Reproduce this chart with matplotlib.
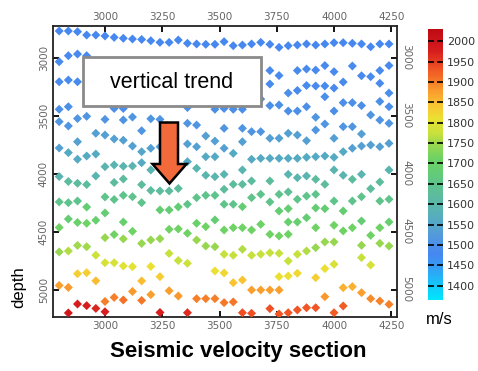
import numpy as np
import matplotlib
matplotlib.use("Agg")
import matplotlib.pyplot as plt
from matplotlib.colors import LinearSegmentedColormap, Normalize
from matplotlib.patches import Rectangle, Polygon

# ---------------- data ----------------
trace_x = [2800, 2840, 2880, 2920, 2960, 3000, 3040, 3080, 3120, 3160,
           3200, 3240, 3280, 3320, 3360, 3400, 3440, 3480, 3520, 3560,
           3600, 3640, 3680, 3720, 3760, 3800, 3840, 3880, 3920, 3960,
           4000, 4040, 4080, 4120, 4160, 4200, 4240]

depth_picks = [
    [2771, 3036, 3209, 3446, 3553, 3780, 4026, 4245, 4465, 4676, 4965],
    [2771, 2984, 3194, 3424, 3590, 3820, 4069, 4251, 4392, 4668, 4982, 5202],
    [2777, 2970, 3209, 3526, 3726, 3877, 4084, 4237, 4422, 4620, 4864, 5125],
    [2806, 2984, 3507, 3849, 4095, 4289, 4429, 4631, 4855, 5139],
    [2806, 3653, 3832, 4021, 4403, 4704, 4925, 5163],
    [2814, 3533, 3668, 3941, 4202, 4340, 4553, 4769, 5103, 5192],
    [2826, 3439, 3702, 3926, 4077, 4224, 4526, 4769, 5068],
    [2834, 3439, 3538, 3713, 3937, 4047, 4188, 4418, 4563, 4797, 5090],
    [2840, 3513, 3763, 3935, 4200, 4498, 4803, 5017],
    [2844, 3631, 3812, 3907, 4096, 4251, 4603, 4926, 5094],
    [2855, 3528, 3782, 3969, 4146, 4573, 4801, 5044],
    [2869, 3533, 3769, 4150, 4314, 4562, 4889, 5198],
    [2869, 4150, 4314, 4481, 4689, 5011],
    [2849, 4129, 4288, 4478, 4750, 5056],
    [2877, 3431, 3567, 3745, 3898, 4265, 4515, 4774, 5200],
    [2883, 3582, 3769, 3955, 4208, 4429, 4573, 5079],
    [2886, 3676, 3855, 4015, 4188, 4458, 4625, 5079],
    [2886, 3446, 3720, 3855, 4027, 4188, 4400, 4631, 4840, 5079],
    [2863, 3439, 3610, 3782, 4007, 4136, 4265, 4487, 4696, 4857, 5113],
    [2898, 3446, 3826, 4093, 4265, 4467, 4705, 4941, 5107],
    [2892, 3446, 3610, 3726, 3969, 4093, 4286, 4467, 4653, 4918, 5200],
    [2883, 3639, 3877, 4064, 4208, 4487, 4705, 5004, 5205],
    [2869, 3358, 3639, 3869, 4179, 4438, 4696, 5004],
    [2886, 3112, 3228, 3414, 3696, 3869, 4064, 4245, 4524, 4683, 5004, 5165],
    [2912, 3155, 3409, 3696, 3869, 4179, 4323, 4538, 4688, 4889, 5004, 5211],
    [2898, 3306, 3461, 3653, 3869, 4007, 4159, 4303, 4418, 4524, 4754, 4883, 5200],
    [2892, 3112, 3284, 3461, 3668, 3869, 4036, 4222, 4418, 4696, 4860, 5176],
    [2883, 3099, 3241, 3424, 3717, 3860, 4021, 4194, 4381, 4668, 5157],
    [2892, 3108, 3245, 3515, 3625, 3855, 4050, 4179, 4297, 4467, 4639, 4898, 5157],
    [2883, 3069, 3245, 3338, 3573, 3849, 4093, 4303, 4590, 4820, 5062],
    [2872, 3122, 3263, 3461, 3696, 3860, 3969, 4237, 4446, 4590, 4782, 5200],
    [2872, 3211, 3389, 3596, 3812, 4015, 4323, 4495, 4984, 5142],
    [2877, 3073, 3389, 3596, 3782, 4050, 4237, 4467, 4975],
    [2883, 3157, 3414, 3659, 3763, 4007, 4200, 4409, 4619, 4725, 5027],
    [2907, 3165, 3495, 3754, 4131, 4533, 4789, 5079],
    [2883, 3112, 3222, 3379, 3539, 3769, 4073, 4237, 4467, 4602, 5099],
    [2883, 3069, 3306, 3424, 3567, 3740, 3969, 4222, 4418, 4625, 5128],
]

velocity_picks = [
    [1478, 1487, 1487, 1500, 1515, 1535, 1590, 1650, 1712, 1745, 1875],
    [1478, 1487, 1487, 1500, 1515, 1560, 1620, 1650, 1680, 1760, 1880, 1990],
    [1478, 1487, 1487, 1515, 1535, 1560, 1620, 1650, 1700, 1750, 1830, 1975],
    [1478, 1487, 1515, 1560, 1620, 1680, 1712, 1750, 1830, 1975],
    [1478, 1535, 1560, 1590, 1690, 1780, 1850, 1970],
    [1478, 1515, 1535, 1590, 1650, 1680, 1745, 1790, 1900, 1975],
    [1478, 1500, 1535, 1590, 1620, 1650, 1712, 1790, 1900],
    [1478, 1500, 1515, 1535, 1590, 1620, 1650, 1690, 1745, 1800, 1910],
    [1478, 1515, 1535, 1590, 1650, 1712, 1800, 1880],
    [1478, 1515, 1550, 1560, 1620, 1650, 1745, 1850, 1905],
    [1478, 1515, 1535, 1590, 1620, 1745, 1810, 1875],
    [1478, 1515, 1535, 1620, 1680, 1745, 1830, 1975],
    [1478, 1620, 1680, 1712, 1775, 1875],
    [1478, 1620, 1680, 1712, 1775, 1880],
    [1478, 1500, 1515, 1535, 1560, 1650, 1712, 1780, 1965],
    [1478, 1515, 1535, 1590, 1650, 1700, 1745, 1900],
    [1478, 1535, 1560, 1590, 1650, 1712, 1745, 1900],
    [1478, 1500, 1535, 1560, 1590, 1650, 1680, 1745, 1810, 1900],
    [1478, 1500, 1515, 1535, 1590, 1620, 1650, 1712, 1775, 1820, 1905],
    [1478, 1500, 1560, 1620, 1650, 1712, 1775, 1845, 1905],
    [1478, 1500, 1515, 1535, 1590, 1620, 1680, 1712, 1760, 1845, 1935],
    [1478, 1515, 1560, 1620, 1650, 1712, 1775, 1875, 1935],
    [1478, 1500, 1515, 1560, 1650, 1712, 1775, 1875],
    [1478, 1487, 1487, 1500, 1535, 1560, 1620, 1650, 1712, 1775, 1875, 1935],
    [1478, 1487, 1500, 1535, 1560, 1650, 1680, 1712, 1775, 1810, 1875, 1930],
    [1478, 1500, 1500, 1535, 1560, 1590, 1630, 1680, 1690, 1712, 1775, 1810, 1930],
    [1478, 1487, 1487, 1500, 1535, 1560, 1590, 1650, 1690, 1775, 1820, 1930],
    [1478, 1487, 1487, 1500, 1535, 1560, 1590, 1650, 1680, 1760, 1930],
    [1478, 1487, 1487, 1515, 1515, 1560, 1620, 1650, 1680, 1712, 1745, 1830, 1930],
    [1478, 1487, 1487, 1500, 1515, 1560, 1620, 1680, 1745, 1810, 1880],
    [1478, 1487, 1487, 1500, 1535, 1560, 1590, 1650, 1712, 1745, 1790, 1925],
    [1478, 1487, 1500, 1515, 1560, 1590, 1680, 1712, 1860, 1925],
    [1478, 1487, 1500, 1515, 1535, 1620, 1650, 1712, 1860],
    [1478, 1487, 1500, 1535, 1535, 1590, 1650, 1680, 1745, 1775, 1875],
    [1478, 1487, 1515, 1535, 1620, 1712, 1790, 1890],
    [1478, 1487, 1487, 1500, 1515, 1535, 1620, 1650, 1712, 1745, 1895],
    [1478, 1487, 1500, 1500, 1515, 1535, 1590, 1650, 1690, 1745, 1900],
]

x_ticks = [3000, 3250, 3500, 3750, 4000, 4250]
depth_ticks = [3000, 3500, 4000, 4500, 5000]
cbar_ticks = [1400, 1450, 1500, 1550, 1600, 1650, 1700, 1750, 1800,
              1850, 1900, 1950, 2000]

# ---------------- colour map ----------------
v_min, v_max = 1365, 2030
anchors = [
    (1365, (0, 230, 255)), (1400, (20, 200, 250)), (1440, (50, 160, 245)),
    (1478, (70, 135, 240)), (1515, (80, 150, 225)), (1535, (85, 160, 210)),
    (1560, (85, 170, 195)), (1590, (90, 180, 175)), (1650, (95, 195, 140)),
    (1680, (100, 205, 115)), (1712, (110, 210, 100)), (1745, (150, 215, 80)),
    (1775, (200, 225, 60)), (1810, (235, 225, 50)), (1845, (250, 195, 50)),
    (1875, (250, 160, 45)), (1905, (245, 120, 40)), (1935, (240, 80, 35)),
    (1975, (215, 30, 30)), (2030, (190, 10, 20)),
]
cmap = LinearSegmentedColormap.from_list(
    "vel", [((v - v_min) / (v_max - v_min), tuple(c / 255 for c in rgb))
            for v, rgb in anchors])
norm = Normalize(v_min, v_max)

# ---------------- figure ----------------
W, H = 478, 371
fig = plt.figure(figsize=(W / 100, H / 100), dpi=100)
fx = lambda px: px / W
fy = lambda py: 1 - py / H

ax = fig.add_axes([fx(53), fy(317), fx(397) - fx(53), fy(26) - fy(317)])
xs, ds, vs = [], [], []
for x, dl, vl in zip(trace_x, depth_picks, velocity_picks):
    xs += [x] * len(dl)
    ds += dl
    vs += vl
sc = ax.scatter(xs, ds, c=vs, cmap=cmap, norm=norm, marker="D", s=21,
                linewidths=0, zorder=3)
ax.set_xlim(2773, 4275)
ax.set_ylim(5237, 2728)
ax.set_xticks(x_ticks)
ax.set_yticks(depth_ticks)
ax.tick_params(direction="in", top=True, right=True, labeltop=True,
               labelright=True, length=4, width=1.3, labelsize=7.5,
               labelcolor="#666666", pad=3)
for t in ax.yaxis.get_major_ticks():
    t.label1.set_rotation(90)
    t.label1.set_va("center")
    t.label2.set_rotation(-90)
    t.label2.set_va("center")
for s in ax.spines.values():
    s.set_linewidth(1.3)
    s.set_color("#222222")

# annotation box
fig.add_artist(Rectangle((fx(83), fy(106)), fx(261) - fx(83), fy(57) - fy(106),
                         transform=fig.transFigure, facecolor="white",
                         edgecolor="#8a8a8a", lw=2, zorder=5))
fig.text(fx(172), fy(82), "vertical trend", ha="center", va="center",
         fontsize=15.5, family="Liberation Sans", zorder=6)

# arrow
arrow_px = [(160, 122.5), (178, 122.5), (178, 164), (186.5, 164),
            (169.5, 183.5), (152.5, 164), (160, 164)]
fig.add_artist(Polygon([(fx(a), fy(b)) for a, b in arrow_px], closed=True,
                       transform=fig.transFigure, facecolor="#F26A3C",
                       edgecolor="black", lw=1.8, zorder=6))

# colorbar
cax = fig.add_axes([fx(428), fy(300), fx(443) - fx(428), fy(29) - fy(300)])
cb = fig.colorbar(sc, cax=cax, ticks=cbar_ticks)
cb.outline.set_visible(False)
cax.tick_params(direction="in", left=True, right=True, length=4, width=1.2,
                color="black", labelsize=8, labelcolor="#333333", pad=3)

fig.text(fx(19), fy(287), "depth", rotation=90, ha="center", va="center",
         fontsize=12, family="Liberation Sans")
fig.text(fx(439), fy(320), "m/s", ha="center", va="center",
         fontsize=12, family="Liberation Sans")
fig.text(fx(238), fy(352), "Seismic velocity section", ha="center",
         va="center", fontsize=16, weight="bold", family="Liberation Sans")

fig.savefig("out.png", dpi=100)
